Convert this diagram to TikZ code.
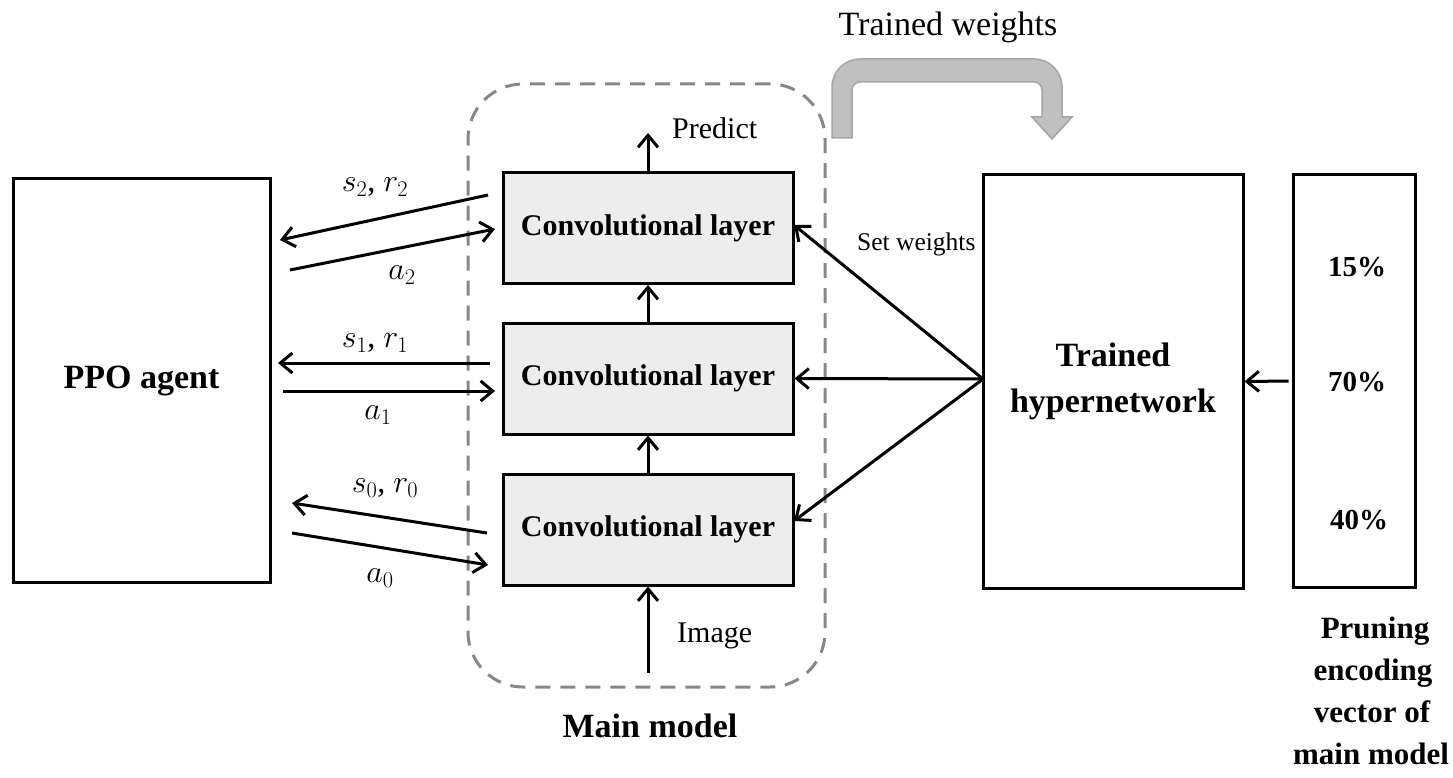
\RequirePackage{fix-cm}
\documentclass[tikz,border=0pt]{standalone}
\usepackage{fontspec}
\setmainfont{Liberation Serif}
\usetikzlibrary{arrows.meta}
\definecolor{convfill}{RGB}{237,237,237}
\definecolor{dashgray}{RGB}{135,135,135}
\definecolor{warrowfill}{RGB}{192,192,192}
\definecolor{warrowedge}{RGB}{165,165,165}
\newcommand{\myfs}[1]{\fontsize{#1}{#1}\selectfont}
\begin{document}
\begin{tikzpicture}[x=1pt,y=-1pt,
  >={Straight Barb[length=12pt,width=20pt]},
  box/.style={draw,line width=3pt,inner sep=0pt},
  conv/.style={box,fill=convfill,minimum width=290pt,minimum height=111pt,font=\myfs{30}\bfseries},
  conn/.style={line width=3pt,->},
  mlbl/.style={font=\myfs{32},inner sep=0pt},
  pct/.style={font=\myfs{29}\bfseries,inner sep=0pt},
  prl/.style={font=\myfs{31}\bfseries,inner sep=0pt,anchor=base},
  mainbox/.style={draw=dashgray,line width=3pt,dash pattern=on 15pt off 10pt,rounded corners=55pt,minimum width=357pt,minimum height=603pt,inner sep=0pt}
]
\useasboundingbox (0,0) rectangle (1453,778);

% main model dashed frame
\node[mainbox] (mainframe) at (646.5,385.5) {};

% boxes
\node[box,minimum width=257pt,minimum height=403pt,font=\myfs{34}\bfseries] (ppo) at (141.5,380.5) {PPO agent};
\node[conv] (conv1) at (648,529.5) {Convolutional layer};
\node[conv] (conv2) at (648,378.5) {Convolutional layer};
\node[conv] (conv3) at (648,228) {Convolutional layer};
\node[box,minimum width=260pt,minimum height=413pt,align=center,font=\fontsize{34}{46}\selectfont\bfseries] (hyper) at (1113,381.5) {Trained\\hypernetwork};
\node[box,minimum width=122pt,minimum height=412pt] (prune) at (1354,381) {};

% percentages
\node[pct] (p15) at (1357,267) {15\%};
\node[pct] (p70) at (1357,382) {70\%};
\node[pct] (p40) at (1359,520) {40\%};

% pruning caption
\node[prl] (pr1) at (1375,638) {Pruning};
\node[prl] (pr2) at (1373,680) {encoding};
\node[prl] (pr3) at (1372,722) {vector of};
\node[prl] (pr4) at (1371,764) {main model};

% texts
\node[font=\myfs{34},anchor=base,inner sep=0pt] (tw) at (948,36) {Trained weights};
\node[font=\myfs{30},anchor=base west,inner sep=0pt] (pred) at (672,139) {Predict};
\node[font=\myfs{30},anchor=base west,inner sep=0pt] (img) at (677,642) {Image};
\node[font=\myfs{34}\bfseries,anchor=base,inner sep=0pt] (mm) at (650,737) {Main model};
\node[font=\myfs{25.5},anchor=base west,inner sep=0pt] (sw) at (857,250) {Set weights};

% math labels
\node[mlbl] (l2s) at (375,187) {$s_2$, $r_2$};
\node[mlbl] (l2a) at (402,275) {$a_2$};
\node[mlbl] (l1s) at (375,343) {$s_1$, $r_1$};
\node[mlbl] (l1a) at (378,415) {$a_1$};
\node[mlbl] (l0s) at (385,488) {$s_0$, $r_0$};
\node[mlbl] (l0a) at (380,578) {$a_0$};

% trained weights arrow
\filldraw[fill=warrowfill,draw=warrowedge,line width=1.5pt]
 (832,138) -- (832,87) arc[start angle=180,end angle=270,radius=28]
 -- (1034,59) arc[start angle=270,end angle=360,radius=28]
 -- (1062,117) -- (1072,117) -- (1052,139) -- (1032,117) -- (1042,117)
 -- (1042,90) arc[start angle=0,end angle=-90,radius=8]
 -- (860,82) arc[start angle=270,end angle=180,radius=8]
 -- (852,138) -- cycle;

% coordinates
\coordinate (s2a) at (488,195);
\coordinate (s2b) at (280,240);
\coordinate (a2a) at (290,270);
\coordinate (a2b) at (495,229);
\coordinate (s1a) at (490,363);
\coordinate (s1b) at (278,363);
\coordinate (a1a) at (283,391);
\coordinate (a1b) at (495,391);
\coordinate (s0a) at (487,533);
\coordinate (s0b) at (292,503);
\coordinate (a0a) at (292,533);
\coordinate (a0b) at (488,565);
\coordinate (predtip) at (648,133);
\coordinate (imgsrc) at (648,673);
\coordinate (hsrc) at (983,379);
\coordinate (htop) at (794,225);
\coordinate (hbot) at (794,521);

% PPO connectors
\draw[conn] (s2a) -- (s2b);
\draw[conn] (a2a) -- (a2b);
\draw[conn] (s1a) -- (s1b);
\draw[conn] (a1a) -- (a1b);
\draw[conn] (s0a) -- (s0b);
\draw[conn] (a0a) -- (a0b);

% main model chain
\draw[conn] (imgsrc) -- (conv1.south);
\draw[conn] (conv1.north) -- (conv2.south);
\draw[conn] (conv2.north) -- (conv3.south);
\draw[conn] (conv3.north) -- (predtip);

% hypernetwork connectors
\draw[conn] (hsrc) -- (htop);
\draw[conn] (hsrc) -- (conv2.east);
\draw[conn] (hsrc) -- (hbot);
\draw[conn,shorten <=3pt] (prune.west) -- (hyper.east);
\end{tikzpicture}
\end{document}
